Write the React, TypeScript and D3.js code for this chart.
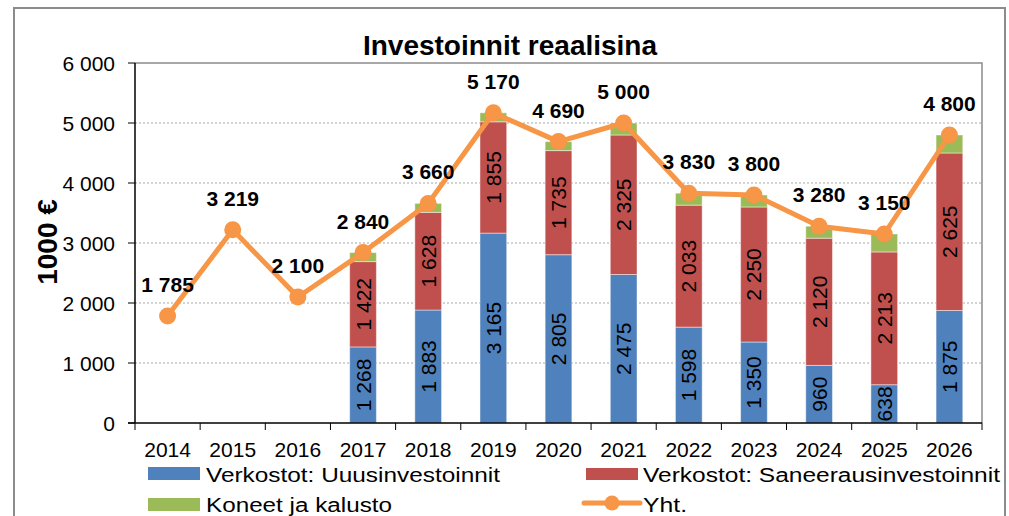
import React from "react";
import * as d3 from "d3";

// data
const years = ["2014", "2015", "2016", "2017", "2018", "2019", "2020", "2021", "2022", "2023", "2024", "2025", "2026"];
const uusi = [0, 0, 0, 1268, 1883, 3165, 2805, 2475, 1598, 1350, 960, 638, 1875];
const saneeraus = [0, 0, 0, 1422, 1628, 1855, 1735, 2325, 2033, 2250, 2120, 2213, 2625];
const koneet = [0, 0, 0, 150, 149, 150, 150, 200, 199, 200, 200, 299, 300];
const yht = [1785, 3219, 2100, 2840, 3660, 5170, 4690, 5000, 3830, 3800, 3280, 3150, 4800];
const yTicks = [0, 1000, 2000, 3000, 4000, 5000, 6000];

const W = 1009;
const H = 516;
const plot = { left: 135, right: 982, top: 63, bottom: 423 };
const FONT = "'Liberation Sans', Arial, sans-serif";

const colors = {
  uusi: "#4F81BD",
  saneeraus: "#C0504D",
  koneet: "#9BBB59",
  yht: "#F79646",
};

const fmt = (v: number) => {
  const s = String(Math.round(v));
  return s.replace(/\B(?=(\d{3})+(?!\d))/g, " ");
};

export default function App() {
  const x = d3.scaleBand<string>().domain(years).range([plot.left, plot.right]).paddingInner(0).paddingOuter(0);
  const y = d3.scaleLinear().domain([0, 6000]).range([plot.bottom, plot.top]);
  const bw = x.bandwidth() * 0.41;
  const cx = (yr: string) => (x(yr) as number) + x.bandwidth() / 2;

  const rows = years.map((yr, i) => ({ yr, uusi: uusi[i], saneeraus: saneeraus[i], koneet: koneet[i] }));
  const stack = d3.stack<any>().keys(["uusi", "saneeraus", "koneet"])(rows);

  const line = d3
    .line<number>()
    .x((_, i) => cx(years[i]))
    .y((d) => y(d));

  const legendText = (label: string, tx: number, ty: number, len: number) => (
    <text x={tx} y={ty} fontSize={20} textLength={len} lengthAdjust="spacingAndGlyphs" fill="#000">
      {label}
    </text>
  );

  return (
    <svg width={W} height={H} style={{ position: "absolute", left: 0, top: 0, fontFamily: FONT }}>
      <rect x={0} y={0} width={W} height={H} fill="#fff" />
      {/* outer frame */}
      <path d={`M14,${H} V8 H1005 V${H}`} fill="none" stroke="#8c8c8c" strokeWidth={2} />

      {/* title */}
      <text x={510} y={55} textAnchor="middle" fontSize={28} fontWeight="bold">
        Investoinnit reaalisina
      </text>

      {/* gridlines */}
      {yTicks.slice(1, -1).map((t) => (
        <line key={t} x1={plot.left} x2={plot.right} y1={y(t)} y2={y(t)} stroke="#a6a6a6" strokeWidth={1} strokeDasharray="2,2" />
      ))}
      {/* plot border top/right */}
      <path d={`M${plot.left},${plot.top} H${plot.right} V${plot.bottom}`} fill="none" stroke="#8c8c8c" strokeWidth={1.5} />

      {/* stacked bars */}
      {stack.map((layer) =>
        layer.map((d, i) => {
          const h = y(d[0]) - y(d[1]);
          if (h <= 0) return null;
          return (
            <rect
              key={layer.key + i}
              x={cx(years[i]) - bw / 2}
              y={y(d[1])}
              width={bw}
              height={h}
              fill={(colors as any)[layer.key]}
              stroke="#ffffff"
              strokeOpacity={0.45}
              strokeWidth={1}
            />
          );
        })
      )}
      {/* segment labels */}
      {stack.slice(0, 2).map((layer) =>
        layer.map((d, i) => {
          const v = d[1] - d[0];
          if (v <= 0) return null;
          const mx = cx(years[i]);
          const my = (y(d[0]) + y(d[1])) / 2;
          return (
            <text
              key={"l" + layer.key + i}
              transform={`translate(${mx + 7.5},${my}) rotate(-90)`}
              textAnchor="middle"
              fontSize={21}
              fill="#000"
            >
              {fmt(v)}
            </text>
          );
        })
      )}

      {/* axes */}
      <line x1={plot.left} x2={plot.left} y1={plot.top} y2={plot.bottom} stroke="#000" strokeWidth={1.5} />
      <line x1={plot.left - 7} x2={plot.right} y1={plot.bottom} y2={plot.bottom} stroke="#000" strokeWidth={1.5} />
      {yTicks.map((t) => (
        <g key={"yt" + t}>
          <line x1={plot.left - 7} x2={plot.left} y1={y(t)} y2={y(t)} stroke="#000" />
          <text x={115} y={y(t) + 7.5} textAnchor="end" fontSize={21}>
            {fmt(t)}
          </text>
        </g>
      ))}
      {years.map((yr, i) => (
        <g key={"xt" + yr}>
          <line x1={x(yr) as number} x2={x(yr) as number} y1={plot.bottom} y2={plot.bottom + 7} stroke="#000" />
          {i === years.length - 1 && (
            <line x1={plot.right} x2={plot.right} y1={plot.bottom} y2={plot.bottom + 7} stroke="#000" />
          )}
          <text x={cx(yr)} y={457} textAnchor="middle" fontSize={21}>
            {yr}
          </text>
        </g>
      ))}
      <text transform="translate(57,242) rotate(-90)" textAnchor="middle" fontSize={28} fontWeight="bold">
        1000 €
      </text>

      {/* total line */}
      <path d={line(yht) || ""} fill="none" stroke={colors.yht} strokeWidth={5} strokeLinejoin="round" />
      {yht.map((v, i) => (
        <circle key={"m" + i} cx={cx(years[i])} cy={y(v)} r={8.5} fill={colors.yht} />
      ))}
      {yht.map((v, i) => (
        <text key={"t" + i} x={cx(years[i])} y={y(v) - 24} textAnchor="middle" fontSize={21} fontWeight="bold">
          {fmt(v)}
        </text>
      ))}

      {/* legend */}
      <rect x={148} y={467} width={52} height={13} fill={colors.uusi} />
      {legendText("Verkostot: Uuusinvestoinnit", 206, 482, 294)}
      <rect x={148} y={498} width={52} height={13} fill={colors.koneet} />
      {legendText("Koneet ja kalusto", 206, 512, 186)}
      <rect x={586} y={468} width={52} height={12} fill={colors.saneeraus} />
      {legendText("Verkostot: Saneerausinvestoinnit", 643, 482, 357)}
      <line x1={584} x2={640} y1={503} y2={503} stroke={colors.yht} strokeWidth={5} strokeLinecap="round" />
      <circle cx={612} cy={503} r={7.5} fill={colors.yht} />
      {legendText("Yht.", 643, 512, 44)}
    </svg>
  );
}
